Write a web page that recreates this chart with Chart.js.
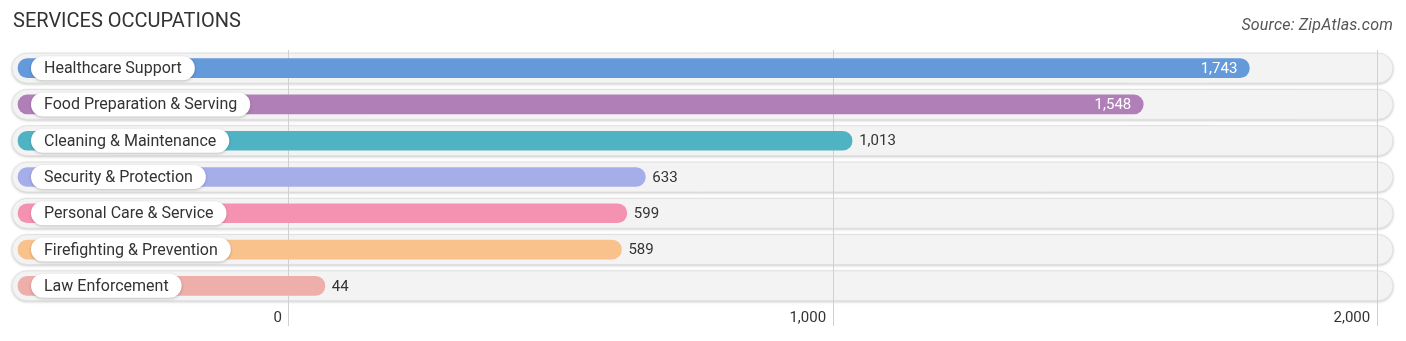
<!DOCTYPE html>
<html lang="en">
<head>
  <meta charset="UTF-8">
  <title>Services Occupations</title>
  <script src="https://cdn.jsdelivr.net/npm/chart.js"></script>
  <style>
    body {
      margin: 0;
      padding: 0;
      background: #fff;
      font-family: Roboto, Arial, sans-serif;
    }
    .wrap {
      position: relative;
      width: 1406px;
      height: 341px;
    }
    .title {
      position: absolute;
      left: 13px;
      top: 8px;
      font-size: 20px;
      color: #333;
    }
    .source {
      position: absolute;
      right: 13px;
      top: 15px;
      font-size: 16px;
      font-style: italic;
      color: #555;
      letter-spacing: 0.2px;
    }
    canvas {
      position: absolute;
      left: 0;
      top: 0;
    }
  </style>
</head>
<body>
  <div class="wrap">
    <canvas id="chart" width="1406" height="341"></canvas>
    <div class="title">SERVICES OCCUPATIONS</div>
    <div class="source">Source: ZipAtlas.com</div>
  </div>
  <script>
    const categories = [
      'Healthcare Support',
      'Food Preparation & Serving',
      'Cleaning & Maintenance',
      'Security & Protection',
      'Personal Care & Service',
      'Firefighting & Prevention',
      'Law Enforcement'
    ];
    const values = [1743, 1548, 1013, 633, 599, 589, 44];
    const colors = ['#6499da', '#b07fb7', '#50b3c3', '#a5aee8', '#f592b2', '#f9c18c', '#eeaeaa'];
    const tickValues = [0, 1000, 2000];

    // axis extent and bar start (bars begin left of zero, under the label pill)
    const X_MIN = -509;
    const X_MAX = 2029;
    const BAR_START = -498;
    const CAP = 22; // rounded end sticks out past the value

    function roundRect(ctx, x, y, w, h, r) {
      ctx.beginPath();
      ctx.moveTo(x + r, y);
      ctx.lineTo(x + w - r, y);
      ctx.arc(x + w - r, y + r, r, -Math.PI / 2, Math.PI / 2);
      ctx.lineTo(x + r, y + h);
      ctx.arc(x + r, y + r, r, Math.PI / 2, Math.PI * 1.5);
      ctx.closePath();
    }

    const tracks = {
      id: 'tracks',
      beforeDraw(chart) {
        const ctx = chart.ctx;
        const area = chart.chartArea;
        const y = chart.scales.y;
        ctx.save();
        categories.forEach((c, i) => {
          const cy = y.getPixelForValue(i);
          const h = 30;
          ctx.shadowColor = 'rgba(0,0,0,0.25)';
          ctx.shadowBlur = 3;
          ctx.shadowOffsetY = 1;
          roundRect(ctx, area.left, cy - h / 2, area.right - area.left, h, h / 2);
          ctx.fillStyle = '#f3f3f3';
          ctx.fill();
          ctx.shadowColor = 'transparent';
          ctx.strokeStyle = '#e0e0e0';
          ctx.lineWidth = 1;
          ctx.stroke();
        });
        ctx.restore();
      }
    };

    const labels = {
      id: 'labels',
      afterDatasetsDraw(chart) {
        const ctx = chart.ctx;
        const area = chart.chartArea;
        const meta = chart.getDatasetMeta(0);
        const max = Math.max(...values);
        ctx.save();
        ctx.textBaseline = 'middle';
        meta.data.forEach((bar, i) => {
          const cy = bar.y;
          const end = Math.max(bar.x, bar.base);
          // category pill
          ctx.font = '16px Roboto';
          const tw = ctx.measureText(categories[i]).width;
          const px = area.left + 19;
          const ph = 24;
          ctx.shadowColor = 'rgba(0,0,0,0.22)';
          ctx.shadowBlur = 3;
          ctx.shadowOffsetY = 1;
          roundRect(ctx, px, cy - ph / 2, tw + 26, ph, ph / 2);
          ctx.fillStyle = '#fff';
          ctx.fill();
          ctx.shadowColor = 'transparent';
          ctx.fillStyle = '#333';
          ctx.textAlign = 'left';
          ctx.fillText(categories[i], px + 13, cy + 1);

          // value
          ctx.font = '15px Roboto';
          const txt = values[i].toLocaleString('en-US');
          if (values[i] / max > 0.8) {
            ctx.fillStyle = '#fff';
            ctx.textAlign = 'right';
            ctx.fillText(txt, end - 12, cy + 1);
          } else {
            ctx.fillStyle = '#333';
            ctx.textAlign = 'left';
            ctx.fillText(txt, end + 7, cy + 1);
          }
        });

        // x tick labels, right-aligned just left of their grid line
        const x = chart.scales.x;
        ctx.font = '15px Roboto';
        ctx.fillStyle = '#333';
        ctx.textAlign = 'right';
        tickValues.forEach(v => {
          ctx.fillText(v.toLocaleString('en-US'), x.getPixelForValue(v) - 7, 318);
        });
        ctx.restore();
      }
    };

    new Chart(document.getElementById('chart'), {
      type: 'bar',
      data: {
        labels: categories,
        datasets: [{
          data: values.map(v => [BAR_START, v + CAP]),
          backgroundColor: colors,
          borderRadius: 10,
          borderSkipped: false,
          barThickness: 19
        }]
      },
      options: {
        indexAxis: 'y',
        responsive: false,
        animation: false,
        layout: {
          padding: { top: 50, left: 12, right: 13, bottom: 15 }
        },
        plugins: {
          legend: { display: false },
          tooltip: { enabled: false }
        },
        scales: {
          x: {
            min: X_MIN,
            max: X_MAX,
            afterBuildTicks: axis => {
              axis.ticks = tickValues.map(v => ({ value: v }));
            },
            grid: {
              color: '#d0d0d0',
              lineWidth: 1,
              tickLength: 22,
              drawOnChartArea: true
            },
            border: { display: false },
            ticks: { display: false }
          },
          y: {
            display: false,
            grid: { display: false }
          }
        }
      },
      plugins: [tracks, labels]
    });
  </script>
</body>
</html>
